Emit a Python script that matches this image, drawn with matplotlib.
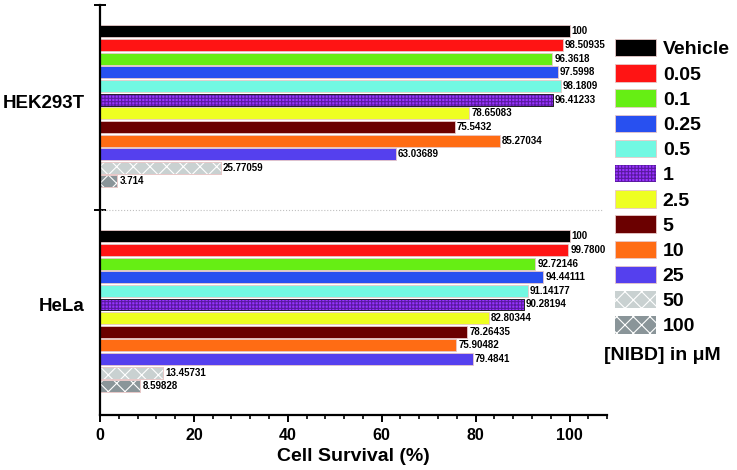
import matplotlib
matplotlib.use('Agg')
import numpy as np
import matplotlib.pyplot as plt
from matplotlib.patches import Patch

plt.rcParams['font.family'] = ['Liberation Sans', 'DejaVu Sans']
plt.rcParams['font.weight'] = 'bold'
plt.rcParams['hatch.linewidth'] = 0.8

cells = ["HEK293T", "HeLa"]
doses = ["Vehicle", "0.05", "0.1", "0.25", "0.5", "1", "2.5", "5", "10", "25", "50", "100"]
hek = [100, 98.50935, 96.3618, 97.5998, 98.1809, 96.41233, 78.65083, 75.5432, 85.27034, 63.03689, 25.77059, 3.714]
hela = [100, 99.7800, 92.72146, 94.44111, 91.14177, 90.28194, 82.80344, 78.26435, 75.90482, 79.4841, 13.45731, 8.59828]
hek_lbl = ["100", "98.50935", "96.3618", "97.5998", "98.1809", "96.41233", "78.65083", "75.5432", "85.27034", "63.03689", "25.77059", "3.714"]
hela_lbl = ["100", "99.7800", "92.72146", "94.44111", "91.14177", "90.28194", "82.80344", "78.26435", "75.90482", "79.4841", "13.45731", "8.59828"]

colors = ["#000000", "#ff1414", "#66ee14", "#2850f0", "#72f8e2", "#9933ff",
          "#eeff22", "#6b0000", "#ff6c14", "#5540ee", "#c9d1d1", "#8a9599"]
hatches = [None, None, None, None, None, '+++++', None, None, None, None, 'xx', 'xx']
hcols = [None, None, None, None, None, '#5a1aa0', None, None, None, None, 'white', 'white']
edges = ["#e8c8c8"] * 12
edges[5] = "#202020"

fig = plt.figure(figsize=(7.37, 4.70), dpi=100)
ax = fig.add_axes([0.1357, 0.117, 0.688, 0.872])

pitch = 0.0666
bh = 0.0585
for ci, vals in enumerate([hek, hela]):
    labs = [hek_lbl, hela_lbl][ci]
    for i, v in enumerate(vals):
        y = ci + 0.5 + (i - 5.5) * pitch - 0.006
        ax.barh(y, v, height=bh, color=colors[i], edgecolor=edges[i], linewidth=0.6)
        if hatches[i]:
            ax.barh(y, v, height=bh, color='none', edgecolor=hcols[i], hatch=hatches[i], linewidth=0)
            ax.barh(y, v, height=bh, color='none', edgecolor=edges[i], linewidth=0.6)
        ax.text(v + 0.4, y, labs[i], va='center', ha='left', fontsize=7, fontweight='bold')

ax.set_xlim(0, 108)
ax.set_ylim(2.0, 0)
ax.axhline(1.0, color='#c0c0c0', linestyle=':', linewidth=0.8, xmax=0.99)

ax.spines['top'].set_visible(False)
ax.spines['right'].set_visible(False)
ax.spines['left'].set_linewidth(1.6)
ax.spines['bottom'].set_linewidth(1.6)

ax.set_xticks([0, 20, 40, 60, 80, 100])
ax.set_xticks(np.arange(0, 109, 4), minor=True)
ax.tick_params(axis='x', which='major', length=5, width=1.4, labelsize=11.5, pad=4)
ax.tick_params(axis='x', which='minor', length=3, width=1.2)
ax.set_yticks([0, 1.0])
ax.set_yticklabels([])
ax.tick_params(axis='y', which='major', direction='inout', length=9, width=1.4)
ax.set_yticks([0.47, 1.46], minor=True)
ax.set_yticklabels(cells, minor=True, fontsize=13.5, fontweight='bold')
ax.tick_params(axis='y', which='minor', length=0, pad=11)
for t in ax.get_xticklabels():
    t.set_fontweight('bold')
ax.set_xlabel("Cell Survival (%)", fontsize=14, fontweight='bold', labelpad=4)

handles = []
for i in range(12):
    if hatches[i]:
        handles.append(Patch(facecolor=colors[i], edgecolor=hcols[i], hatch=hatches[i], linewidth=0))
    else:
        handles.append(Patch(facecolor=colors[i], edgecolor=edges[i], linewidth=0.6))
leg = fig.legend(handles, doses, loc='upper left', bbox_to_anchor=(615 / 737, 1 - 39 / 470), frameon=False,
                 handlelength=2.1, handleheight=1.0, handletextpad=0.36,
                 labelspacing=0.3, borderpad=0, borderaxespad=0,
                 prop={'weight': 'bold', 'size': 14})
fig.text(604 / 737, 1 - 355 / 470, "[NIBD] in \u03bcM", fontsize=14, fontweight='bold', ha='left', va='center')

fig.savefig("out.png", dpi=100)
